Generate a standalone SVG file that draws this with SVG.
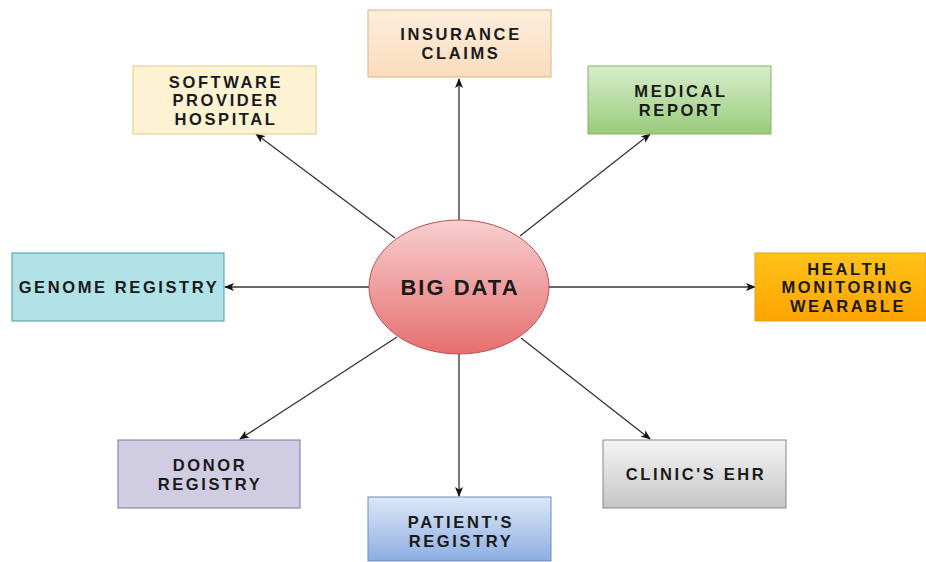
<svg xmlns="http://www.w3.org/2000/svg" width="926" height="562" viewBox="0 0 926 562">
<style>
text{font-family:"Liberation Sans",Arial,sans-serif;font-weight:bold;font-size:16.5px;letter-spacing:2.6px;fill:#1a1a1a;text-anchor:middle;dominant-baseline:central}
.c{stroke:#333;stroke-width:1.3;fill:none;marker-end:url(#ah)}
</style>
<defs>
<marker id="ah" markerWidth="10" markerHeight="8" refX="9" refY="4" orient="auto" markerUnits="userSpaceOnUse"><path d="M0,0 L10,4 L0,8 L2.5,4 z" fill="#111"/></marker>
<linearGradient id="gRed" x1="0" y1="0" x2="0" y2="1"><stop offset="0" stop-color="#f8cfcf"/><stop offset="1" stop-color="#e66f6f"/></linearGradient>
<linearGradient id="gIns" x1="0" y1="0" x2="0" y2="1"><stop offset="0" stop-color="#fdeedd"/><stop offset="1" stop-color="#fbdcbd"/></linearGradient>
<linearGradient id="gGreen" x1="0" y1="0" x2="0" y2="1"><stop offset="0" stop-color="#d8eecb"/><stop offset="1" stop-color="#97cc7c"/></linearGradient>
<linearGradient id="gOr" x1="0" y1="0" x2="0" y2="1"><stop offset="0" stop-color="#ffc31a"/><stop offset="1" stop-color="#ffa300"/></linearGradient>
<linearGradient id="gBlue" x1="0" y1="0" x2="0" y2="1"><stop offset="0" stop-color="#dde8f8"/><stop offset="1" stop-color="#8daee2"/></linearGradient>
<linearGradient id="gGray" x1="0" y1="0" x2="0" y2="1"><stop offset="0" stop-color="#f4f4f4"/><stop offset="1" stop-color="#c6c6c6"/></linearGradient>
</defs>
<rect width="926" height="562" fill="#fff"/>
<g id="connectors">
<line class="c" x1="459" y1="220" x2="459" y2="79"/>
<line class="c" x1="395" y1="238" x2="256" y2="134"/>
<line class="c" x1="520" y1="236" x2="650" y2="134"/>
<line class="c" x1="369" y1="287" x2="225" y2="287"/>
<line class="c" x1="549" y1="287" x2="755" y2="287"/>
<line class="c" x1="397" y1="337" x2="240" y2="439"/>
<line class="c" x1="459" y1="354" x2="459" y2="496"/>
<line class="c" x1="521" y1="338" x2="650" y2="439"/>
</g>
<g id="bigdata">
<ellipse cx="459" cy="287" rx="90" ry="67" fill="url(#gRed)" stroke="#b85450" stroke-width="1"/>
<text x="460" y="287" style="font-size:22px;letter-spacing:2px">BIG DATA</text>
</g>
<g id="insurance">
<rect x="368" y="10" width="183" height="67" fill="url(#gIns)" stroke="#e3b37c"/>
<text x="461" y="34">INSURANCE</text><text x="461" y="52.5">CLAIMS</text>
</g>
<g id="software">
<rect x="133" y="66" width="183" height="68" fill="#fdf2d2" stroke="#e2cc88"/>
<text x="226" y="81.5">SOFTWARE</text><text x="226" y="100">PROVIDER</text><text x="226" y="118.5">HOSPITAL</text>
</g>
<g id="medical">
<rect x="588" y="66" width="183" height="68" fill="url(#gGreen)" stroke="#82b366"/>
<text x="681" y="91">MEDICAL</text><text x="681" y="109.5">REPORT</text>
</g>
<g id="genome">
<rect x="12" y="253" width="212" height="68" fill="#b1e2e7" stroke="#4b9ba6"/>
<text x="119" y="287">GENOME REGISTRY</text>
</g>
<g id="health">
<rect x="755" y="253" width="171" height="68" fill="url(#gOr)" stroke="#e8a317"/>
<text x="848" y="268.5">HEALTH</text><text x="848" y="287">MONITORING</text><text x="848" y="305.5">WEARABLE</text>
</g>
<g id="donor">
<rect x="118" y="440" width="182" height="68" fill="#d0cde3" stroke="#7b74a7"/>
<text x="210" y="465">DONOR</text><text x="210" y="483.5">REGISTRY</text>
</g>
<g id="patient">
<rect x="368" y="497" width="183" height="64" fill="url(#gBlue)" stroke="#6c8ebf"/>
<text x="461" y="522">PATIENT'S</text><text x="461" y="540.5">REGISTRY</text>
</g>
<g id="clinic">
<rect x="603" y="440" width="183" height="68" fill="url(#gGray)" stroke="#888"/>
<text x="696" y="474">CLINIC'S EHR</text>
</g>
</svg>
